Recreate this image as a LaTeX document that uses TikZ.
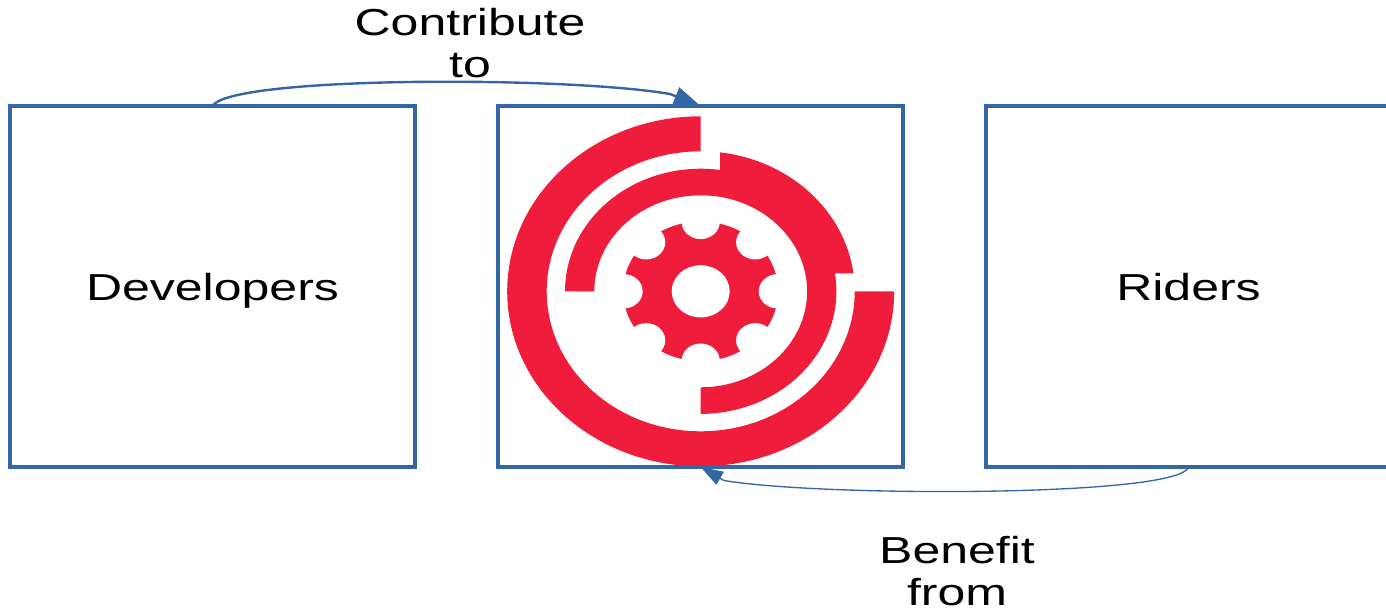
\documentclass[tikz,border=0pt]{standalone}
\usepackage{fontspec}
\setmainfont[FakeStretch=1.33]{Liberation Sans}
\usepackage{xcolor}
\usetikzlibrary{arrows.meta}
\definecolor{boxblue}{RGB}{52,101,164}
\definecolor{logored}{RGB}{239,29,59}
\tikzset{
  panel/.style={draw=boxblue,line width=2.3pt,minimum width=303.75pt,minimum height=270.75pt,inner sep=0pt,outer sep=0pt,text depth=0pt},
  caption/.style={align=center,inner sep=0pt,font=\fontsize{28.2}{31.5}\selectfont},
  linkup/.style={draw=boxblue,line width=1.8pt,-{Triangle[length=20pt,width=14pt]}},
  linkdown/.style={draw=boxblue,line width=1pt,-{Triangle[length=17pt,width=11pt]}},
}

\begin{document}
\begin{tikzpicture}[x=0.75pt,y=0.75pt,yscale=-1,xscale=1]
\useasboundingbox (0,0) rectangle (1386,610);

%Shape: Logo [id:logo]
\begin{scope}[shift={(700.7,291.3)},yscale=-1]
%Outer ring
\fill [logored] (0,175) arc [start angle=90,end angle=360,x radius=193.5,y radius=175] -- (154,0) arc [start angle=360,end angle=90,x radius=154,y radius=140] -- cycle ;
%Middle ring
\fill [logored] (-135.7,0) arc [start angle=180,end angle=81.8,x radius=135.7,y radius=122.6] -- (19.3,138.9) arc [start angle=82.8,end angle=7.4,x radius=154,y radius=140] -- (134.2,18) arc [start angle=8.44,end angle=-90,x radius=135.7,y radius=122.6] -- (0,-96) arc [start angle=-90,end angle=180,x radius=106.4,y radius=96] -- cycle ;
%Gear
\begin{scope}[yscale=0.9]
\fill [logored] (0,0) circle (77.5) ;
\foreach \a in {0,45,...,315}
  \fill [white] (\a:77.1) circle (19.1) ;
\fill [white] (0,0) circle (29) ;
\end{scope}
\end{scope}

% Boxes
\node (developers) [panel,caption] at (212.5,286.5) {Developers};
\node (hub) [panel] at (700.5,286.5) {};
\node (riders) [panel,caption] at (1188.5,286.5) {Riders};

% Text Node
\node (contribute) [caption] at (470,43) {Contribute\\to};
% Text Node
\node (benefit) [caption] at (957,571) {Benefit\\from};

\coordinate (upknee) at (670,94);
\coordinate (downknee) at (724,480.5);

%Curve Lines
\draw [linkup] (developers.north) .. controls (230,76) and (566,76) .. (upknee) -- (hub.north) ;
\draw [linkdown] (riders.south) .. controls (1180,497) and (822,497) .. (downknee) -- (hub.south) ;
\end{tikzpicture}
\end{document}
